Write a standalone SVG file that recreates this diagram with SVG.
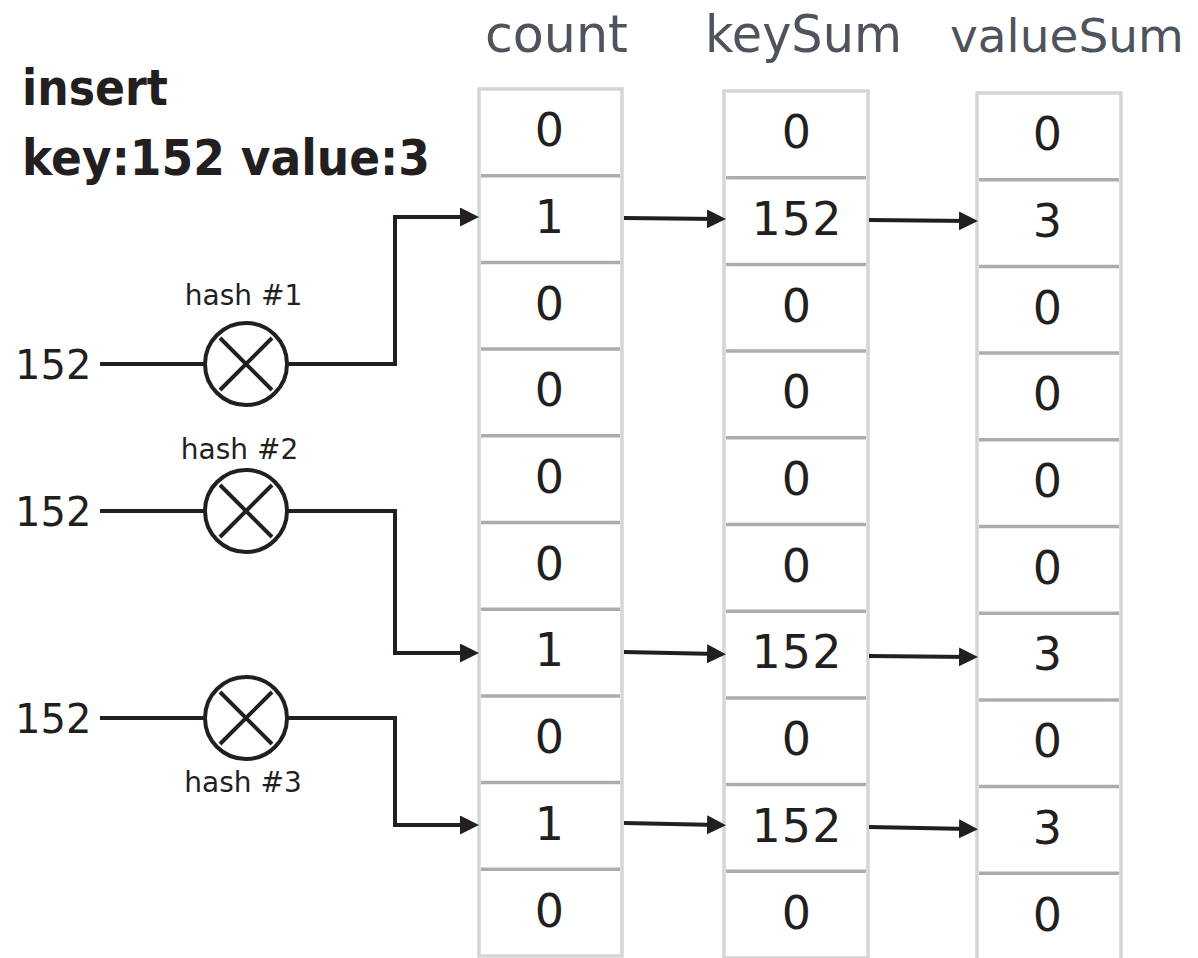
<svg xmlns="http://www.w3.org/2000/svg" width="1198" height="958" viewBox="0 0 1198 958">
<style>
.cell{fill:#fff;stroke:#d4d5d7;stroke-width:3.5}
.div{stroke:#a9aeac;stroke-width:3.5}
.num{font-family:"DejaVu Sans",sans-serif;font-size:46px;fill:#231f20;text-anchor:middle;letter-spacing:1px}
.hdr{font-family:"DejaVu Sans",sans-serif;font-size:52px;fill:#4f535c}
.hdr2{font-family:"DejaVu Sans",sans-serif;font-size:47px;fill:#4f535c}
.ttl{font-family:"DejaVu Sans",sans-serif;font-size:50px;font-weight:bold;fill:#231f20}
.lbl{font-family:"DejaVu Sans",sans-serif;font-size:40px;fill:#231f20}
.hl{font-family:"DejaVu Sans",sans-serif;font-size:28px;fill:#231f20;text-anchor:middle}
.ln{fill:none;stroke:#231f20;stroke-width:4}
.circ{fill:#fff;stroke:#231f20;stroke-width:4}
</style>
<defs>
<marker id="ah" markerUnits="userSpaceOnUse" markerWidth="20" markerHeight="20" refX="11" refY="9.5" orient="auto">
<path d="M0,0 L19,9.5 L0,19 z" fill="#231f20"/>
</marker>
</defs>
<rect width="1198" height="958" fill="#fff"/>

<g id="title">
<text class="ttl" x="22" y="105" textLength="146" lengthAdjust="spacingAndGlyphs">insert</text>
<text class="ttl" x="22" y="175" textLength="408" lengthAdjust="spacingAndGlyphs">key:152 value:3</text>
</g>

<g id="headers">
<text class="hdr" x="485" y="52" textLength="143" lengthAdjust="spacingAndGlyphs">count</text>
<text class="hdr" x="705" y="52" textLength="197" lengthAdjust="spacingAndGlyphs">keySum</text>
<text class="hdr2" x="950" y="52">valueSum</text>
</g>

<g id="count">
<rect class="cell" x="479" y="89" width="143" height="867"/>
<g class="div">
<line x1="481" x2="620" y1="175.7" y2="175.7"/>
<line x1="481" x2="620" y1="262.4" y2="262.4"/>
<line x1="481" x2="620" y1="349.1" y2="349.1"/>
<line x1="481" x2="620" y1="435.8" y2="435.8"/>
<line x1="481" x2="620" y1="522.5" y2="522.5"/>
<line x1="481" x2="620" y1="609.2" y2="609.2"/>
<line x1="481" x2="620" y1="695.9" y2="695.9"/>
<line x1="481" x2="620" y1="782.6" y2="782.6"/>
<line x1="481" x2="620" y1="869.3" y2="869.3"/>
</g>
<text class="num" x="550" y="146">0</text>
<text class="num" x="550" y="233">1</text>
<text class="num" x="550" y="320">0</text>
<text class="num" x="550" y="406">0</text>
<text class="num" x="550" y="493">0</text>
<text class="num" x="550" y="580">0</text>
<text class="num" x="550" y="666">1</text>
<text class="num" x="550" y="753">0</text>
<text class="num" x="550" y="840">1</text>
<text class="num" x="550" y="927">0</text>
</g>

<g id="keySum">
<rect class="cell" x="724" y="91" width="144" height="867"/>
<g class="div">
<line x1="726" x2="866" y1="177.7" y2="177.7"/>
<line x1="726" x2="866" y1="264.4" y2="264.4"/>
<line x1="726" x2="866" y1="351.1" y2="351.1"/>
<line x1="726" x2="866" y1="437.8" y2="437.8"/>
<line x1="726" x2="866" y1="524.5" y2="524.5"/>
<line x1="726" x2="866" y1="611.2" y2="611.2"/>
<line x1="726" x2="866" y1="697.9" y2="697.9"/>
<line x1="726" x2="866" y1="784.6" y2="784.6"/>
<line x1="726" x2="866" y1="871.3" y2="871.3"/>
</g>
<text class="num" x="797" y="148">0</text>
<text class="num" x="797" y="235">152</text>
<text class="num" x="797" y="322">0</text>
<text class="num" x="797" y="408">0</text>
<text class="num" x="797" y="495">0</text>
<text class="num" x="797" y="582">0</text>
<text class="num" x="797" y="668">152</text>
<text class="num" x="797" y="755">0</text>
<text class="num" x="797" y="842">152</text>
<text class="num" x="797" y="929">0</text>
</g>

<g id="valueSum">
<rect class="cell" x="977" y="93" width="144" height="867"/>
<g class="div">
<line x1="979" x2="1119" y1="179.7" y2="179.7"/>
<line x1="979" x2="1119" y1="266.4" y2="266.4"/>
<line x1="979" x2="1119" y1="353.1" y2="353.1"/>
<line x1="979" x2="1119" y1="439.8" y2="439.8"/>
<line x1="979" x2="1119" y1="526.5" y2="526.5"/>
<line x1="979" x2="1119" y1="613.2" y2="613.2"/>
<line x1="979" x2="1119" y1="699.9" y2="699.9"/>
<line x1="979" x2="1119" y1="786.6" y2="786.6"/>
<line x1="979" x2="1119" y1="873.3" y2="873.3"/>
</g>
<text class="num" x="1048" y="150">0</text>
<text class="num" x="1048" y="237">3</text>
<text class="num" x="1048" y="324">0</text>
<text class="num" x="1048" y="410">0</text>
<text class="num" x="1048" y="497">0</text>
<text class="num" x="1048" y="584">0</text>
<text class="num" x="1048" y="670">3</text>
<text class="num" x="1048" y="757">0</text>
<text class="num" x="1048" y="844">3</text>
<text class="num" x="1048" y="931">0</text>
</g>

<g id="hash1">
<text class="lbl" x="15" y="379">152</text>
<text class="hl" x="243.5" y="305">hash #1</text>
<circle class="circ" cx="246" cy="364" r="41"/>
<path class="ln" d="M220,338 L272,390 M272,338 L220,390"/>
</g>
<g id="hash2">
<text class="lbl" x="15" y="526">152</text>
<text class="hl" x="239.5" y="459">hash #2</text>
<circle class="circ" cx="246" cy="511" r="41"/>
<path class="ln" d="M220,485 L272,537 M272,485 L220,537"/>
</g>
<g id="hash3">
<text class="lbl" x="15" y="733">152</text>
<text class="hl" x="243" y="792">hash #3</text>
<circle class="circ" cx="246" cy="718" r="41"/>
<path class="ln" d="M220,692 L272,744 M272,692 L220,744"/>
</g>

<g id="connectors" class="ln">
<path d="M100,364 L205,364"/>
<path d="M100,511 L205,511"/>
<path d="M100,718 L205,718"/>
<path d="M287,364 L395,364 L395,217 L471,217" marker-end="url(#ah)"/>
<path d="M287,511 L395,511 L395,653 L471,653" marker-end="url(#ah)"/>
<path d="M287,718 L395,718 L395,825 L471,825" marker-end="url(#ah)"/>
<path d="M624,218 L718,219" marker-end="url(#ah)"/>
<path d="M869,220 L970,221" marker-end="url(#ah)"/>
<path d="M624,652 L718,654" marker-end="url(#ah)"/>
<path d="M869,656 L970,657" marker-end="url(#ah)"/>
<path d="M624,823 L718,825" marker-end="url(#ah)"/>
<path d="M869,827 L970,829" marker-end="url(#ah)"/>
</g>
</svg>
